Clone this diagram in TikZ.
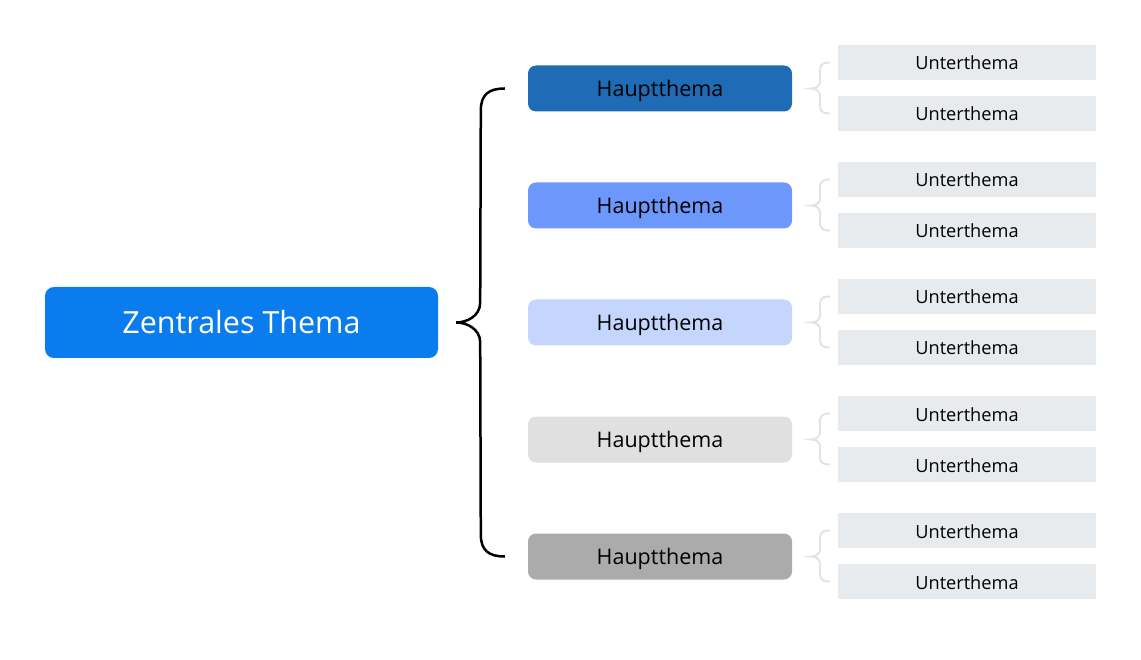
\documentclass[tikz,border=0pt]{standalone}
\usepackage{fontspec}
\setmainfont{Open Sans}
\usetikzlibrary{calc}
\definecolor{mainblue}{HTML}{0A7CEE}
\definecolor{hA}{HTML}{1F6BB6}
\definecolor{hB}{HTML}{6C98FB}
\definecolor{hC}{HTML}{C4D6FD}
\definecolor{hD}{HTML}{E0E0E0}
\definecolor{hE}{HTML}{ABABAB}
\definecolor{subfill}{HTML}{E8EBEE}
\definecolor{smallbrace}{HTML}{E1E4E7}
\tikzset{
  mainbox/.style={fill=mainblue, rounded corners=9pt, minimum width=393pt, minimum height=71pt, text=white, font=\fontsize{30.5}{34}\selectfont, inner sep=0pt},
  hauptbox/.style={rounded corners=8pt, minimum width=264pt, minimum height=46pt, text=black, font=\fontsize{21.5}{24}\selectfont, inner sep=0pt, text depth=0pt},
  unterbox/.style={fill=subfill, minimum width=258pt, minimum height=35pt, text=black, font=\fontsize{18.2}{20}\selectfont, inner sep=0pt, text height=15pt, text depth=0pt},
  bigbrace/.style={draw=black, line width=2.5pt},
  lightbrace/.style={draw=smallbrace, line width=2pt},
}
\begin{document}
\begin{tikzpicture}[x=1pt,y=-1pt]
\useasboundingbox (0,0) rectangle (1141,660);
\node[mainbox] (main) at (241.5,322.5) {Zentrales Thema};
\foreach \i/\y/\c in {1/88.5/hA,2/205.5/hB,3/322.5/hC,4/439.5/hD,5/556.5/hE}{
  \node[hauptbox, fill=\c] (h\i) at (660,\y) {Hauptthema};
  \node[unterbox] (u\i a) at (967,\y-26) {Unterthema};
  \node[unterbox] (u\i b) at (967,\y+25) {Unterthema};
  % small brace
  \coordinate (st\i) at ($(u\i a.west)+(-8,0)$);
  \coordinate (sb\i) at ($(u\i b.west)+(-8,0)$);
  \coordinate (sm\i) at ($(h\i.east)+(19,0)$);
  \draw[lightbrace] (st\i) .. controls +(-10,0) and +(0,-8) .. ($(st\i)+(-10,12)$)
     -- ($(sm\i)+(9,-8)$) .. controls +(0,6) and +(4,0) .. (sm\i)
     .. controls +(4,0) and +(0,-6) .. ($(sm\i)+(9,8)$)
     -- ($(sb\i)+(-10,-12)$) .. controls +(0,8) and +(-10,0) .. (sb\i);
}
% big brace
\coordinate (bt) at ($(h1.west)+(-23,0)$);
\coordinate (bb) at ($(h5.west)+(-23,0)$);
\coordinate (tip) at ($(main.east)+(18,0)$);
\draw[bigbrace] (bt) .. controls +(-16,0) and +(0,-16) .. ($(bt)+(-24,22)$)
   -- ($(tip)+(24,-20)$) .. controls +(0,14) and +(10,0) .. (tip)
   .. controls +(10,0) and +(0,-14) .. ($(tip)+(24,20)$)
   -- ($(bb)+(-24,-22)$) .. controls +(0,16) and +(-16,0) .. (bb);
\end{tikzpicture}
\end{document}
